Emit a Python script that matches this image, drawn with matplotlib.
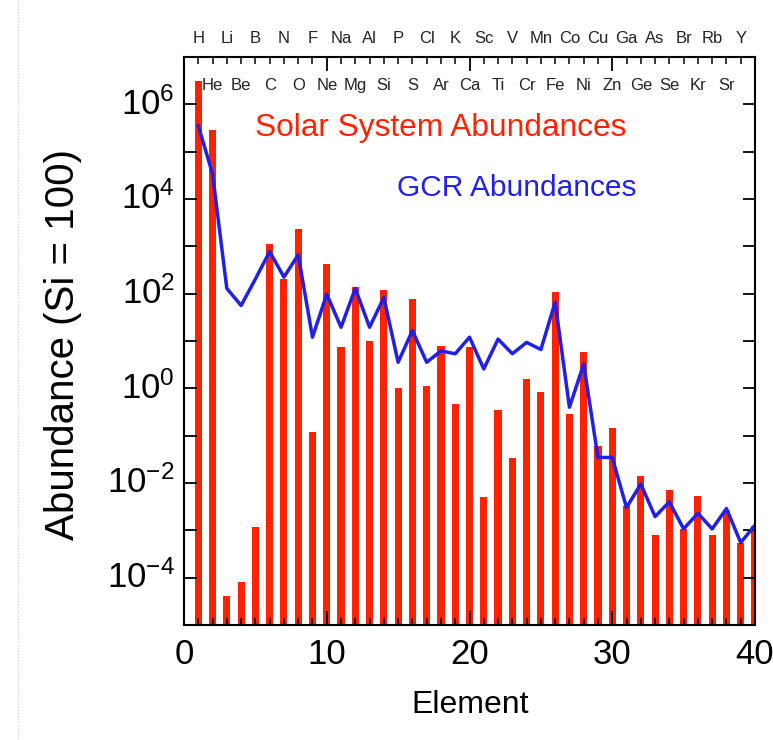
import matplotlib
matplotlib.use("Agg")
import matplotlib.pyplot as plt
import numpy as np
from matplotlib.lines import Line2D
from matplotlib.ticker import FixedLocator, NullFormatter

plt.rcParams["font.family"] = ["Liberation Sans", "DejaVu Sans"]
plt.rcParams["mathtext.fontset"] = "custom"
plt.rcParams["mathtext.rm"] = "Liberation Sans"
plt.rcParams["mathtext.it"] = "Liberation Sans"

# Numero atomico
element_z = list(range(1, 41))

# log10 de la abundancia solar (Si = 100)
solar_log = [6.50, 5.46, -4.39, -4.10, -2.93, 3.04, 2.31, 3.37, -0.93, 2.63,
             0.87, 2.14, 1.00, 2.08, 0.00, 1.89, 0.04, 0.90, -0.33, 0.87,
             -2.30, -0.46, -1.47, 0.20, -0.08, 2.03, -0.54, 0.77, -1.21, -0.84,
             -2.48, -1.85, -3.10, -2.15, -2.97, -2.27, -3.10, -2.59, -3.26, -2.90]

# log10 de la abundancia en rayos cosmicos galacticos
gcr_log = [5.55, 4.53, 2.11, 1.75, 2.31, 2.89, 2.35, 2.82, 1.08, 1.99,
           1.29, 2.11, 1.29, 1.92, 0.55, 1.22, 0.55, 0.79, 0.73, 1.08,
           0.41, 1.04, 0.73, 0.97, 0.82, 1.82, -0.40, 0.51, -1.46, -1.46,
           -2.52, -2.02, -2.71, -2.40, -2.97, -2.64, -2.97, -2.54, -3.26, -2.89]

# Etiquetas de elementos (fila superior impares, fila interior pares)
odd_symbols = ["H", "Li", "B", "N", "F", "Na", "Al", "P", "Cl", "K",
               "Sc", "V", "Mn", "Co", "Cu", "Ga", "As", "Br", "Rb", "Y"]
even_symbols = ["He", "Be", "C", "O", "Ne", "Mg", "Si", "S", "Ar", "Ca",
                "Ti", "Cr", "Fe", "Ni", "Zn", "Ge", "Se", "Kr", "Sr"]

ytick_exps = [6, 4, 2, 0, -2, -4]

W, H = 773, 740
fig = plt.figure(figsize=(W / 100, H / 100), dpi=100)
ax = fig.add_axes([184 / W, 1 - 625 / H, (755 - 184) / W, (625 - 57) / H])

red = "#ff2200"
blue = "#2020e8"

solar = 10 ** np.array(solar_log)
gcr = 10 ** np.array(gcr_log)
ymin = 1e-5

ax.bar(element_z, solar - ymin, bottom=ymin, width=0.5, color=red, zorder=1)
ax.plot(element_z, gcr, color=blue, lw=2.5, zorder=2)

ax.set_yscale("log")
ax.set_xlim(0, 40)
ax.set_ylim(ymin, 1e7)

# ticks hacia dentro en los cuatro lados
ax.yaxis.set_major_locator(FixedLocator([10.0 ** e for e in range(-5, 8)]))
ax.yaxis.set_minor_locator(FixedLocator([]))
ax.yaxis.set_major_formatter(NullFormatter())
ax.tick_params(axis="y", which="major", direction="in", length=9, width=1.3,
               left=True, right=True, labelleft=False)
ax.set_xticks([0, 10, 20, 30, 40])
ax.set_xticks(range(0, 41), minor=True)
ax.tick_params(axis="x", which="major", direction="in", length=10, width=1.3,
               top=True, bottom=True, labelsize=25, pad=9)
ax.tick_params(axis="x", which="minor", direction="in", length=5, width=1.1,
               top=True, bottom=True)
for sp in ax.spines.values():
    sp.set_linewidth(1.5)

for e in ytick_exps:
    ax.text(-0.016, 10.0 ** e, r"$\mathregular{10^{%d}}$" % e,
            transform=ax.get_yaxis_transform(),
            ha="right", va="center", fontsize=25)

# simbolos de elementos
trans = ax.get_xaxis_transform()
for i, s in enumerate(odd_symbols):
    ax.text(2 * i + 1, 1.033, s, transform=trans, ha="center", va="center",
            fontsize=12, color="#222222", clip_on=False)
for i, s in enumerate(even_symbols):
    ax.text(2 * i + 2, 0.949, s, transform=trans, ha="center", va="center",
            fontsize=12, color="#222222")

ax.text(0.45, 0.875, "Solar System Abundances", transform=ax.transAxes,
        ha="center", va="center", fontsize=22.8, color=red)
ax.text(0.582, 0.769, "GCR Abundances", transform=ax.transAxes,
        ha="center", va="center", fontsize=21.5, color=blue)

fig.text(470 / W, 1 - 705 / H, "Element", ha="center", va="center", fontsize=23)
fig.text(63 / W, 1 - 345 / H, "Abundance (Si = 100)", ha="center", va="center",
         rotation=90, fontsize=29)

fig.add_artist(Line2D([18 / W, 18 / W], [0, 1], color="#cccccc", lw=0.8, ls=":"))

fig.savefig("out.png", dpi=100)
